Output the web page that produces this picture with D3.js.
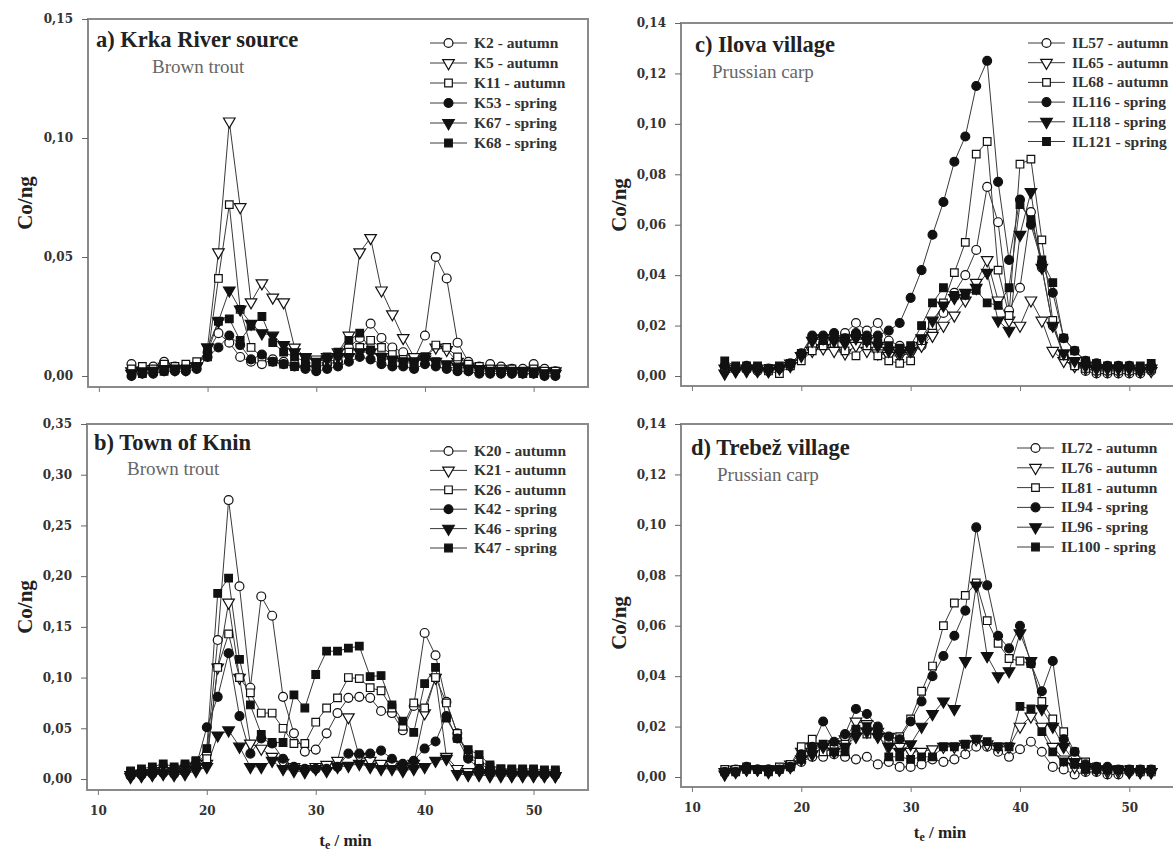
<!DOCTYPE html>
<html><head><meta charset="utf-8">
<script src="https://cdn.jsdelivr.net/npm/d3@7"></script>
<style>
html,body{margin:0;padding:0;background:#fff;}
svg{display:block;font-family:"Liberation Serif","DejaVu Serif",serif;}
</style></head>
<body>
<svg id="chart" width="1173" height="855"></svg>
<script>
// ---------- data ----------
const times = [13,14,15,16,17,18,19,20,21,22,23,24,25,26,27,28,29,30,31,32,33,34,35,36,37,38,39,40,41,42,43,44,45,46,47,48,49,50,51,52];
const xTicks = [10,20,30,40,50];

// a) Krka River source
const aNames = ["K2 - autumn","K5 - autumn","K11 - autumn","K53 - spring","K67 - spring","K68 - spring"];
const aK2  = [0.005,0.003,0.004,0.006,0.004,0.004,0.005,0.010,0.018,0.014,0.008,0.006,0.005,0.007,0.006,0.005,0.004,0.004,0.005,0.006,0.012,0.016,0.022,0.016,0.012,0.010,0.007,0.017,0.050,0.041,0.014,0.006,0.004,0.005,0.004,0.003,0.003,0.005,0.003,0.002];
const aK5  = [0.002,0.002,0.003,0.004,0.003,0.003,0.004,0.012,0.052,0.107,0.071,0.031,0.039,0.033,0.031,0.012,0.008,0.007,0.008,0.010,0.017,0.052,0.058,0.036,0.026,0.016,0.008,0.008,0.012,0.011,0.006,0.004,0.003,0.003,0.003,0.002,0.002,0.002,0.002,0.002];
const aK11 = [0.003,0.004,0.003,0.005,0.004,0.005,0.006,0.008,0.041,0.072,0.028,0.012,0.008,0.006,0.005,0.004,0.004,0.005,0.006,0.007,0.010,0.012,0.015,0.012,0.009,0.007,0.006,0.008,0.013,0.012,0.008,0.005,0.004,0.003,0.003,0.003,0.002,0.003,0.002,0.002];
const aK53 = [0.000,0.001,0.001,0.002,0.002,0.002,0.003,0.008,0.012,0.017,0.013,0.007,0.009,0.006,0.005,0.004,0.003,0.002,0.003,0.004,0.006,0.008,0.007,0.005,0.004,0.004,0.003,0.005,0.004,0.003,0.002,0.002,0.001,0.001,0.001,0.001,0.001,0.001,0.000,0.000];
const aK67 = [0.001,0.002,0.002,0.003,0.003,0.003,0.004,0.012,0.023,0.036,0.028,0.022,0.018,0.017,0.013,0.010,0.008,0.006,0.007,0.008,0.008,0.010,0.010,0.008,0.007,0.006,0.006,0.007,0.006,0.005,0.004,0.003,0.003,0.002,0.002,0.002,0.002,0.002,0.001,0.001];
const aK68 = [0.001,0.001,0.002,0.002,0.003,0.003,0.004,0.010,0.023,0.024,0.015,0.021,0.025,0.014,0.010,0.008,0.006,0.005,0.008,0.010,0.015,0.018,0.011,0.008,0.006,0.006,0.005,0.008,0.006,0.004,0.003,0.003,0.002,0.002,0.002,0.002,0.001,0.001,0.001,0.001];
const aYTicks = [0,0.05,0.10,0.15];

// b) Town of Knin
const bNames = ["K20 - autumn","K21 - autumn","K26 - autumn","K42 - spring","K46 - spring","K47 - spring"];
const bK20 = [0.005,0.006,0.008,0.010,0.009,0.012,0.015,0.025,0.137,0.275,0.190,0.090,0.180,0.161,0.081,0.045,0.027,0.029,0.045,0.065,0.080,0.081,0.080,0.067,0.065,0.048,0.072,0.144,0.122,0.076,0.045,0.022,0.015,0.010,0.008,0.007,0.008,0.006,0.006,0.005];
const bK21 = [0.004,0.005,0.006,0.008,0.007,0.009,0.012,0.015,0.110,0.174,0.100,0.035,0.030,0.022,0.016,0.012,0.010,0.012,0.014,0.018,0.061,0.022,0.018,0.015,0.014,0.012,0.015,0.065,0.100,0.022,0.010,0.007,0.006,0.005,0.005,0.004,0.004,0.004,0.004,0.003];
const bK26 = [0.006,0.007,0.009,0.011,0.010,0.013,0.017,0.020,0.110,0.143,0.100,0.085,0.065,0.065,0.050,0.035,0.035,0.056,0.070,0.080,0.100,0.099,0.090,0.087,0.070,0.052,0.075,0.070,0.100,0.075,0.045,0.025,0.018,0.012,0.010,0.009,0.009,0.008,0.008,0.007];
const bK42 = [0.003,0.004,0.005,0.006,0.005,0.007,0.012,0.051,0.081,0.124,0.062,0.025,0.040,0.035,0.020,0.012,0.010,0.010,0.010,0.012,0.025,0.025,0.025,0.028,0.020,0.015,0.018,0.030,0.037,0.062,0.040,0.020,0.010,0.007,0.006,0.005,0.005,0.005,0.004,0.004];
const bK46 = [0.002,0.003,0.004,0.005,0.004,0.005,0.008,0.012,0.043,0.048,0.032,0.012,0.012,0.018,0.010,0.008,0.007,0.010,0.008,0.012,0.013,0.015,0.012,0.010,0.010,0.008,0.010,0.012,0.018,0.020,0.005,0.004,0.004,0.003,0.003,0.003,0.003,0.003,0.003,0.003];
const bK47 = [0.008,0.010,0.012,0.015,0.012,0.015,0.018,0.030,0.183,0.198,0.118,0.073,0.044,0.036,0.036,0.083,0.070,0.103,0.126,0.126,0.129,0.131,0.101,0.102,0.073,0.057,0.046,0.094,0.110,0.060,0.040,0.029,0.024,0.014,0.010,0.010,0.010,0.010,0.009,0.009];
const bYTicks = [0,0.05,0.10,0.15,0.20,0.25,0.30,0.35];

// c) Ilova village
const cNames = ["IL57 - autumn","IL65 - autumn","IL68 - autumn","IL116 - spring","IL118 - spring","IL121 - spring"];
const cIL57  = [0.002,0.003,0.003,0.002,0.002,0.003,0.004,0.008,0.012,0.013,0.015,0.017,0.021,0.018,0.021,0.014,0.012,0.010,0.012,0.018,0.025,0.033,0.040,0.050,0.075,0.061,0.026,0.035,0.065,0.043,0.020,0.008,0.004,0.002,0.001,0.001,0.001,0.001,0.001,0.002];
const cIL65  = [0.003,0.002,0.003,0.003,0.002,0.003,0.005,0.008,0.010,0.011,0.010,0.009,0.012,0.010,0.009,0.008,0.008,0.009,0.012,0.016,0.020,0.024,0.030,0.037,0.046,0.030,0.022,0.020,0.030,0.022,0.010,0.006,0.004,0.003,0.002,0.002,0.002,0.002,0.002,0.002];
const cIL68  = [0.003,0.003,0.004,0.003,0.002,0.001,0.004,0.006,0.010,0.012,0.013,0.010,0.008,0.012,0.008,0.006,0.005,0.006,0.014,0.020,0.029,0.041,0.053,0.088,0.093,0.042,0.024,0.084,0.086,0.054,0.022,0.008,0.004,0.003,0.002,0.002,0.002,0.002,0.002,0.003];
const cIL116 = [0.004,0.003,0.004,0.003,0.003,0.003,0.005,0.009,0.016,0.016,0.017,0.015,0.017,0.016,0.016,0.018,0.021,0.031,0.042,0.056,0.069,0.085,0.095,0.115,0.125,0.077,0.046,0.070,0.060,0.045,0.033,0.015,0.010,0.006,0.005,0.004,0.004,0.004,0.003,0.004];
const cIL118 = [0.001,0.002,0.002,0.002,0.002,0.003,0.004,0.008,0.014,0.015,0.014,0.013,0.015,0.014,0.012,0.010,0.009,0.010,0.015,0.022,0.028,0.031,0.033,0.035,0.041,0.022,0.018,0.056,0.073,0.043,0.020,0.009,0.006,0.004,0.003,0.003,0.003,0.003,0.002,0.003];
const cIL121 = [0.006,0.004,0.003,0.004,0.003,0.004,0.005,0.009,0.015,0.014,0.016,0.015,0.016,0.014,0.013,0.012,0.011,0.012,0.020,0.029,0.035,0.032,0.032,0.034,0.029,0.028,0.035,0.068,0.062,0.046,0.037,0.015,0.010,0.006,0.005,0.004,0.004,0.004,0.004,0.005];
const cYTicks = [0,0.02,0.04,0.06,0.08,0.10,0.12,0.14];

// d) Trebež village
const dNames = ["IL72 - autumn","IL76 - autumn","IL81 - autumn","IL94 - spring","IL96 - spring","IL100 - spring"];
const dIL72  = [0.002,0.003,0.003,0.003,0.003,0.003,0.004,0.006,0.008,0.008,0.009,0.008,0.007,0.008,0.005,0.006,0.004,0.004,0.005,0.007,0.006,0.007,0.009,0.012,0.012,0.010,0.008,0.011,0.014,0.010,0.004,0.003,0.001,0.002,0.002,0.001,0.001,0.002,0.002,0.002];
const dIL76  = [0.002,0.003,0.003,0.003,0.003,0.003,0.005,0.010,0.012,0.012,0.013,0.015,0.022,0.021,0.018,0.016,0.012,0.010,0.010,0.011,0.012,0.012,0.013,0.015,0.013,0.012,0.012,0.020,0.024,0.020,0.012,0.007,0.004,0.003,0.003,0.002,0.002,0.002,0.002,0.002];
const dIL81  = [0.003,0.003,0.004,0.003,0.003,0.004,0.005,0.012,0.015,0.010,0.011,0.013,0.018,0.017,0.017,0.015,0.016,0.023,0.034,0.044,0.060,0.069,0.072,0.077,0.062,0.053,0.047,0.046,0.045,0.030,0.023,0.018,0.010,0.006,0.004,0.003,0.003,0.003,0.002,0.002];
const dIL94  = [0.002,0.002,0.004,0.003,0.003,0.003,0.004,0.009,0.012,0.022,0.014,0.017,0.027,0.025,0.020,0.016,0.015,0.022,0.030,0.040,0.048,0.056,0.066,0.099,0.076,0.056,0.051,0.060,0.045,0.034,0.046,0.015,0.010,0.005,0.004,0.004,0.003,0.003,0.003,0.003];
const dIL96  = [0.001,0.002,0.003,0.003,0.002,0.003,0.004,0.007,0.009,0.012,0.010,0.012,0.016,0.018,0.016,0.012,0.010,0.013,0.020,0.025,0.030,0.027,0.046,0.076,0.048,0.040,0.042,0.057,0.046,0.027,0.020,0.012,0.006,0.004,0.003,0.003,0.003,0.002,0.002,0.002];
const dIL100 = [0.002,0.002,0.003,0.003,0.002,0.003,0.004,0.007,0.010,0.013,0.010,0.010,0.019,0.020,0.018,0.008,0.008,0.007,0.008,0.008,0.012,0.012,0.013,0.015,0.014,0.012,0.012,0.028,0.027,0.018,0.010,0.006,0.005,0.003,0.003,0.003,0.003,0.003,0.003,0.003];
const dYTicks = [0,0.02,0.04,0.06,0.08,0.10,0.12,0.14];

// marker style per series index (open circle, open triangle, open square, filled circle, filled triangle, filled square)
const markerShapes = ["circle","triangle","square","circle","triangle","square"];
const markerFilled = [false,false,false,true,true,true];

// ---------- layout ----------
const panels = [
  {title:"a) Krka River source", sub:"Brown trout", names:aNames, series:[aK2,aK5,aK11,aK53,aK67,aK68], yTicks:aYTicks,
   x0:88, x1:588, yTop:19, yZero:376, yBot:387, xLabels:false,
   titleX:96, titleY:47, subX:152, subY:73, legX:430, legY:43, legStep:20, ylabX:32, ylabY:203},
  {title:"b) Town of Knin", sub:"Brown trout", names:bNames, series:[bK20,bK21,bK26,bK42,bK46,bK47], yTicks:bYTicks,
   x0:87, x1:588, yTop:424, yZero:779, yBot:790, xLabels:true,
   titleX:94, titleY:450, subX:127, subY:475, legX:430, legY:451, legStep:19.4, ylabX:32, ylabY:607, xlabY:846},
  {title:"c) Ilova village", sub:"Prussian carp", names:cNames, series:[cIL57,cIL65,cIL68,cIL116,cIL118,cIL121], yTicks:cYTicks,
   x0:681, x1:1184, yTop:23, yZero:376, yBot:386, xLabels:false,
   titleX:695, titleY:52, subX:712, subY:78, legX:1028, legY:43, legStep:19.7, ylabX:626, ylabY:205},
  {title:"d) Trebež village", sub:"Prussian carp", names:dNames, series:[dIL72,dIL76,dIL81,dIL94,dIL96,dIL100], yTicks:dYTicks,
   x0:681, x1:1184, yTop:424, yZero:777, yBot:787, xLabels:true,
   titleX:691, titleY:455, subX:717, subY:481, legX:1017, legY:448, legStep:19.8, ylabX:626, ylabY:623, xlabY:838}
];

const svg = d3.select("#chart");
const fmt = v => d3.format(".2f")(v).replace(".", ",");
const LINE = "#3a3a3a", FRAME = "#8a8a8a";

function symbolPath(shape){
  if(shape==="circle") return d3.symbol().type(d3.symbolCircle).size(62)();
  if(shape==="square") return d3.symbol().type(d3.symbolSquare).size(58)();
  return d3.symbol().type(d3.symbolTriangle).size(58)();
}
function drawMarker(g, shape, filled, px, py){
  g.append("path")
    .attr("d", symbolPath(shape))
    .attr("transform", `translate(${px},${py})` + (shape==="triangle" ? " rotate(180)" : ""))
    .attr("fill", filled ? "#111" : "#fff")
    .attr("stroke", "#111").attr("stroke-width", 1.2);
}

panels.forEach(p => {
  const x = d3.scaleLinear().domain([9, 55]).range([p.x0, p.x1]);
  const yMax = p.yTicks[p.yTicks.length-1];
  const y = d3.scaleLinear().domain([0, yMax]).range([p.yZero, p.yTop]);
  const g = svg.append("g");

  // frame
  g.append("rect").attr("x", p.x0).attr("y", p.yTop).attr("width", p.x1 - p.x0).attr("height", p.yBot - p.yTop)
    .attr("fill", "none").attr("stroke", FRAME).attr("stroke-width", 2);

  // y axis
  const ya = g.append("g").attr("transform", `translate(${p.x0},0)`)
    .call(d3.axisLeft(y).tickValues(p.yTicks).tickFormat(fmt).tickSize(6).tickPadding(9));
  ya.select(".domain").remove();
  ya.selectAll("line").attr("stroke", "#666");
  ya.selectAll("text").attr("font-size", 12).attr("font-weight", "bold").attr("fill", "#333")
    .attr("font-family", "DejaVu Serif");

  // x axis
  const xa = g.append("g").attr("transform", `translate(0,${p.yBot})`)
    .call(d3.axisBottom(x).tickValues(xTicks).tickFormat(p.xLabels ? d3.format("d") : "").tickSize(5).tickPadding(11));
  xa.select(".domain").remove();
  xa.selectAll("line").attr("stroke", "#777");
  xa.selectAll("text").attr("font-size", 12).attr("font-weight", "bold").attr("fill", "#333")
    .attr("font-family", "DejaVu Serif");

  // series
  const line = d3.line().x((d,i) => x(times[i])).y(d => y(d));
  p.series.forEach((vals, si) => {
    g.append("path").datum(vals).attr("d", line).attr("fill", "none")
      .attr("stroke", LINE).attr("stroke-width", 1);
  });
  p.series.forEach((vals, si) => {
    vals.forEach((v, i) => drawMarker(g, markerShapes[si], markerFilled[si], x(times[i]), y(v)));
  });

  // titles
  g.append("text").attr("x", p.titleX).attr("y", p.titleY).text(p.title)
    .attr("font-size", 22.5).attr("font-weight", "bold").attr("fill", "#222");
  g.append("text").attr("x", p.subX).attr("y", p.subY).text(p.sub)
    .attr("font-size", 19).attr("fill", "#666");

  // legend
  p.names.forEach((nm, si) => {
    const ly = p.legY + si * p.legStep;
    g.append("line").attr("x1", p.legX).attr("x2", p.legX + 37).attr("y1", ly).attr("y2", ly)
      .attr("stroke", LINE).attr("stroke-width", 1);
    drawMarker(g, markerShapes[si], markerFilled[si], p.legX + 18.5, ly);
    g.append("text").attr("x", p.legX + 44).attr("y", ly + 5).text(nm)
      .attr("font-size", 15.5).attr("font-weight", "bold").attr("fill", "#333");
  });

  // y label
  g.append("text").attr("transform", `translate(${p.ylabX},${p.ylabY}) rotate(-90)`)
    .attr("text-anchor", "middle").attr("font-size", 21).attr("font-weight", "bold").attr("fill", "#222")
    .text("Co/ng");

  // x label
  if (p.xLabels) {
    const t = g.append("text").attr("x", (p.x0 + Math.min(p.x1, 1173) ) / 2 + (p.x0 > 600 ? 13 : 8)).attr("y", p.xlabY)
      .attr("text-anchor", "middle").attr("font-size", 17).attr("font-weight", "bold").attr("fill", "#222");
    t.append("tspan").text("t");
    t.append("tspan").attr("dy", 3).attr("font-size", 12).text("e");
    t.append("tspan").attr("dy", -3).text(" / min");
  }
});
</script>
</body></html>
